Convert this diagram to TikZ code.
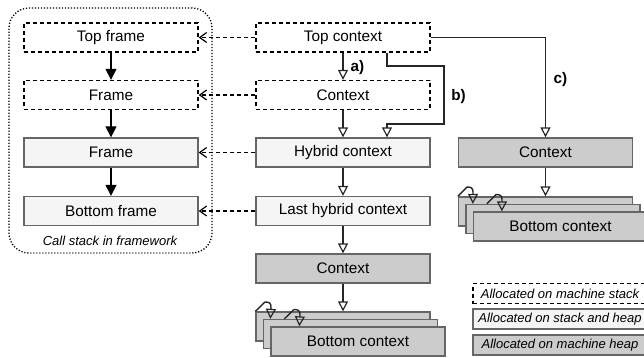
\documentclass[tikz,border=0pt]{standalone}
\usepackage{fontspec}
\setmainfont{Liberation Sans}
\usetikzlibrary{arrows.meta}
\definecolor{lightfill}{HTML}{F5F5F5}
\definecolor{darkfill}{HTML}{CCCCCC}
\definecolor{boxline}{HTML}{666666}
\begin{document}
\begin{tikzpicture}[x=1pt,y=-1pt,
  base/.style={minimum width=174pt, minimum height=29pt, inner sep=0pt, line width=1.3pt,
    font=\fontsize{15.3}{18}\selectfont},
  stackbox/.style={base, draw=black, dash pattern=on 4pt off 3pt, fill=white},
  lightbox/.style={base, draw=boxline, fill=lightfill},
  darkbox/.style={base, draw=boxline, fill=darkfill},
  legendtext/.style={font=\itshape\fontsize{13}{15}\selectfont, minimum height=20pt},
  dasharrow/.style={draw=black, line width=1.3pt, dash pattern=on 4pt off 3pt,
    -{Straight Barb[length=7pt,width=10pt,line width=1.2pt]}},
  blockarrow/.style={draw=black, line width=1.3pt, -{Triangle[length=11pt,width=11pt]}},
  openarrow/.style={draw=black!85, line width=1.4pt, -{Triangle[open,length=10pt,width=10pt,line width=1.2pt]}},
  lbl/.style={font=\bfseries\fontsize{15.3}{18}\selectfont, inner sep=0pt},
]
\useasboundingbox (0,0) rectangle (644,358);
\clip (0,0) rectangle (644,358);

% container
\node[draw=black, line width=1.3pt, dash pattern=on 1.2pt off 1.8pt, rounded corners=20pt,
  minimum width=203pt, minimum height=245pt, inner sep=0pt] (cont) at (110.5,130.5) {};
\node[font=\itshape\fontsize{13}{15}\selectfont, inner sep=0pt] (cap) at (110,240.5) {Call stack in framework};

% left column
\node[stackbox] (tf) at (111,37.5) {Top frame};
\node[stackbox] (f1) at (111,95) {Frame};
\node[lightbox] (f2) at (111,152.5) {Frame};
\node[lightbox] (bf) at (111,211) {Bottom frame};

% middle column
\node[stackbox] (tc) at (343,37.5) {Top context};
\node[stackbox] (c1) at (343,95) {Context};
\node[lightbox] (hc) at (343,152.5) {Hybrid context};
\node[lightbox] (lh) at (343,211) {Last hybrid context};
\node[darkbox] (cd) at (343,268.5) {Context};
\node[darkbox] (m1) at (343,326.5) {};
\node[darkbox] (m2) at (350.5,334) {};
\node[darkbox] (m3) at (358,341.5) {Bottom context};

% right column
\node[darkbox] (rc) at (545.5,152.5) {Context};
\node[darkbox] (r1) at (545.5,211.5) {};
\node[darkbox] (r2) at (553,219) {};
\node[darkbox] (r3) at (560.5,226.5) {Bottom context};

% legend
\node[stackbox, legendtext] (l1) at (560,293.5) {Allocated on machine stack};
\node[lightbox, legendtext] (l2) at (560,319) {Allocated on stack and heap};
\node[darkbox, legendtext] (l3) at (560,345) {Allocated on machine heap};

% frame chain
\draw[blockarrow] (tf) -- (f1);
\draw[blockarrow] (f1) -- (f2);
\draw[blockarrow] (f2) -- (bf);

% dashed links
\draw[dasharrow] (tc.west) -- (tf.east);
\draw[dasharrow] (c1.west) -- (f1.east);
\draw[dasharrow] (hc.west) -- (f2.east);
\draw[dasharrow] (lh.west) -- (bf.east);

% context chain
\draw[openarrow] (tc) -- (c1);
\draw[openarrow] (c1) -- (hc);
\draw[openarrow] (hc) -- (lh);
\draw[openarrow] (lh) -- (cd);
\draw[openarrow] (cd) -- (m1);
\draw[openarrow] (rc) -- (r1);

% b)
\coordinate (b1) at (444,66);
\coordinate (b2) at (444,124);
\draw[openarrow] ([xshift=44pt]tc.south) |- (b1) -- (b2) -| ([xshift=44pt]hc.north);
% c)
\draw[openarrow] (tc.east) -| (rc.north);

\node[lbl] (la) at (357.5,68) {a)};
\node[lbl] (lb) at (458.5,97) {b)};
\node[lbl] (lc) at (560.5,80) {c)};

% recursive arrows, middle stack
\draw[openarrow] (m1.north west) -- (265,302) .. controls (269,302) and (271,303) .. (271,307) -- ([xshift=7.5pt]m2.north west);
\draw[openarrow] ([xshift=21.5pt]m2.north west) -- (294,309.5) .. controls (298,309.5) and (300,310.5) .. (300,314.5) -- ([xshift=29pt]m3.north west);
% recursive arrows, right stack
\draw[openarrow] (r1.north west) -- (467,187) .. controls (471,187) and (473,188) .. (473,192) -- ([xshift=7.5pt]r2.north west);
\draw[openarrow] ([xshift=21.5pt]r2.north west) -- (496,194.5) .. controls (500,194.5) and (502,195.5) .. (502,199.5) -- ([xshift=29pt]r3.north west);
\end{tikzpicture}
\end{document}
